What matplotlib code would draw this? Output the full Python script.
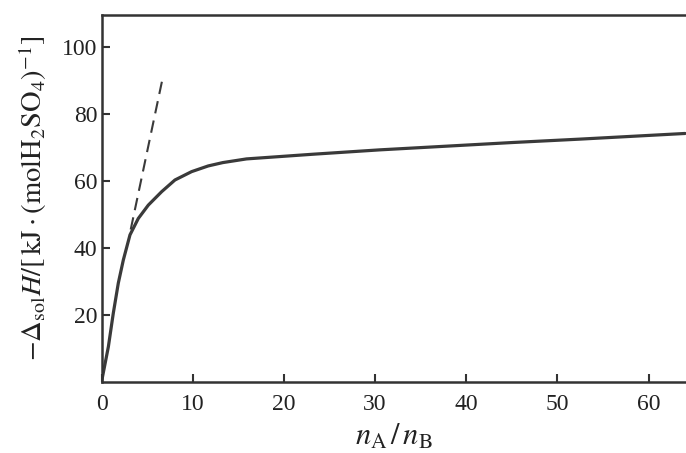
import matplotlib
matplotlib.use("Agg")
import matplotlib.pyplot as plt

plt.rcParams.update({
    "font.family": "Liberation Serif",
    "mathtext.fontset": "stix",
})

# integral heat of solution curve
ratio = [0, 0.75, 1.29, 1.84, 2.39, 3.12, 4.03, 5.13, 6.59, 8.05, 9.88,
         11.7, 13.3, 15.9, 23.2, 30.5, 37.8, 45.1, 52.4, 64.0]
heat = [0, 10.5, 20.5, 29.5, 36.4, 43.9, 48.8, 52.8, 56.8, 60.3, 62.8,
        64.5, 65.5, 66.6, 68.0, 69.3, 70.4, 71.5, 72.5, 74.2]

# dashed tangent line
tan_x = [3.2, 6.77]
tan_y = [45.5, 91.6]

xticks = [0, 10, 20, 30, 40, 50, 60]
yticks = [20, 40, 60, 80, 100]

fig = plt.figure(figsize=(6.86, 4.53), dpi=100)
ax = fig.add_axes([0.148, 0.157, 0.852, 0.810])

ax.plot(ratio, heat, '-', color='#3a3a3a', lw=2.3, solid_capstyle='round',
        solid_joinstyle='round')
ax.plot(tan_x, tan_y, '--', color='#3a3a3a', lw=1.5, dashes=(6, 3.5))

ax.set_xlim(0, 64.1)
ax.set_ylim(0, 109.6)
ax.set_xticks(xticks)
ax.set_yticks(yticks)
ax.tick_params(direction='in', length=6, width=1.5, color='#333333',
               labelsize=17, labelcolor='#222222')
ax.tick_params(axis='x', pad=9)
ax.tick_params(axis='y', pad=3)

ax.spines['right'].set_visible(False)
for s in ['left', 'bottom', 'top']:
    ax.spines[s].set_linewidth(1.8)
    ax.spines[s].set_color('#333333')

ax.set_xlabel(r'$n_{\mathrm{A}}\,/\,n_{\mathrm{B}}$', fontsize=22, labelpad=5,
              color='#222222')
ax.set_ylabel(r'$-\Delta_{\mathrm{sol}}H/[\,\mathrm{kJ}\cdot(\mathrm{molH_2SO_4})^{-1}]$',
              fontsize=20.5, labelpad=9, color='#222222')

fig.savefig('out.png', dpi=100)
